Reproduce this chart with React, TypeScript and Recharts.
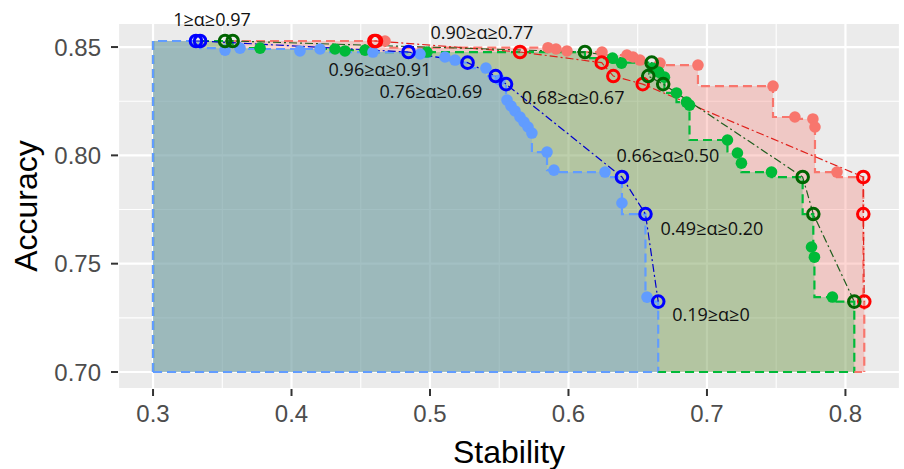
import {
  CartesianGrid,
  ComposedChart,
  Area,
  Line,
  ReferenceDot,
  Scatter,
  XAxis,
  YAxis,
} from "recharts";

const PANEL = "#EBEBEB";
const TICK_TEXT = "#4D4D4D";
const TICK_LINE = "#333333";
const SANS = "'Liberation Sans', Arial, sans-serif";
const NOTE_FONT = "'Open Sans', 'Noto Sans', sans-serif";

const X_TICKS = [0.3, 0.4, 0.5, 0.6, 0.7, 0.8];
const X_MINOR = [0.35, 0.45, 0.55, 0.65, 0.75];
const Y_TICKS = [0.7, 0.75, 0.8, 0.85];
const Y_MINOR = [0.725, 0.775, 0.825];
const X_DOMAIN = [0.2747, 0.8394];
const Y_DOMAIN = [0.69215, 0.8611];
const BASE_X = 0.3;
const BASE_Y = 0.7;

// [stability, accuracy]
const bluePoints = [
  [0.352, 0.8486], [0.3628, 0.8495], [0.4061, 0.8482], [0.4206, 0.8491],
  [0.4588, 0.8477], [0.4928, 0.8468], [0.5108, 0.8454], [0.5181, 0.844],
  [0.5404, 0.8403], [0.5505, 0.8348], [0.5556, 0.8255], [0.5585, 0.8228],
  [0.5614, 0.8205], [0.565, 0.8177], [0.5679, 0.8154], [0.5708, 0.8131],
  [0.5736, 0.8103], [0.5845, 0.8015], [0.5895, 0.7932], [0.6264, 0.7923],
  [0.6386, 0.778], [0.6567, 0.7346],
];
const blueCircles = [
  [0.331, 0.8528], [0.334, 0.8528], [0.4845, 0.8477], [0.5271, 0.8428],
  [0.5474, 0.8366], [0.5549, 0.8329], [0.6386, 0.79], [0.6556, 0.7729],
  [0.6648, 0.7325],
];

const greenPoints = [
  [0.3773, 0.8495], [0.4314, 0.8491], [0.4386, 0.8482], [0.4531, 0.8486],
  [0.4978, 0.8477], [0.6318, 0.8449], [0.6383, 0.8426], [0.6606, 0.8403],
  [0.665, 0.8385], [0.6693, 0.8361], [0.678, 0.8288], [0.6852, 0.8246],
  [0.6874, 0.8232], [0.7148, 0.8071], [0.722, 0.8011], [0.7249, 0.7964],
  [0.7466, 0.7923], [0.7755, 0.7577], [0.7776, 0.753], [0.7906, 0.7346],
];
const greenCircles = [
  [0.352, 0.8528], [0.3575, 0.8528], [0.6119, 0.8477], [0.6601, 0.8428],
  [0.6576, 0.8366], [0.6684, 0.8329], [0.7691, 0.79], [0.7768, 0.7729],
  [0.8064, 0.7325],
];

const redPoints = [
  [0.4675, 0.8528], [0.5852, 0.8497], [0.591, 0.8491], [0.5989, 0.8482],
  [0.6242, 0.8477], [0.6422, 0.8463], [0.6466, 0.8454], [0.6516, 0.844],
  [0.6661, 0.8426], [0.6935, 0.8417], [0.7477, 0.832], [0.7635, 0.8177],
  [0.7765, 0.8168], [0.778, 0.8131], [0.7939, 0.7923],
];
const redCircles = [
  [0.4598, 0.8528], [0.461, 0.8528], [0.565, 0.8477], [0.624, 0.8428],
  [0.6324, 0.8366], [0.6536, 0.8329], [0.8129, 0.79], [0.8129, 0.7729],
  [0.8136, 0.7325],
];

const alphaLabels = [
  "1≥α≥0.97", "0.90≥α≥0.77", "0.96≥α≥0.91", "0.76≥α≥0.69",
  "0.68≥α≥0.67", "0.66≥α≥0.50", "0.49≥α≥0.20", "0.19≥α≥0",
];
const labelSpots = [
  [0.3426, 0.8625], [0.5375, 0.8565], [0.4639, 0.8394], [0.5007, 0.8292],
  [0.6033, 0.8265], [0.6718, 0.8001], [0.7036, 0.7664], [0.7029, 0.7263],
];

type Pt = { x: number; y: number };

const toPts = (rows: number[][]): Pt[] => rows.map(([x, y]) => ({ x, y }));

// pareto front (higher stability and accuracy dominate), sorted by stability
function front(rows: number[][]): Pt[] {
  const sorted = toPts(rows).sort((a, b) => b.x - a.x || b.y - a.y);
  const out: Pt[] = [];
  let best = -Infinity;
  for (const p of sorted) {
    if (p.y > best) {
      out.push(p);
      best = p.y;
    }
  }
  return out.reverse();
}

const groups = [
  { key: "red", points: redPoints, circles: redCircles, light: "#F8766D", dark: "#FF0000", path: "#E0201B", alpha: 0.3 },
  { key: "green", points: greenPoints, circles: greenCircles, light: "#00BA38", dark: "#006400", path: "#1E5E1E", alpha: 0.25 },
  { key: "blue", points: bluePoints, circles: blueCircles, light: "#619CFF", dark: "#0000FF", path: "#0000CD", alpha: 0.28 },
].map((g) => {
  const f = front([...g.points, ...g.circles]);
  const last = f[f.length - 1];
  return {
    ...g,
    region: [{ x: BASE_X, y: BASE_Y }, ...f, { x: last.x, y: BASE_Y }],
    bottom: [{ x: BASE_X, y: BASE_Y }, { x: last.x, y: BASE_Y }],
  };
});

export default function App() {
  return (
    <div style={{ position: "absolute", left: 0, top: 0, background: "#fff" }}>
      <ComposedChart width={904} height={469} margin={{ top: 23, right: 4, bottom: 0, left: 0 }}>
        <CartesianGrid fill={PANEL} stroke="#FFFFFF" strokeWidth={2.2} />
        <CartesianGrid xAxisId="minor" yAxisId="minor" stroke="#FFFFFF" strokeWidth={1.1} />
        <XAxis
          type="number"
          dataKey="x"
          domain={X_DOMAIN}
          allowDataOverflow
          ticks={X_TICKS}
          tickFormatter={(v: number) => v.toFixed(1)}
          tick={{ fontSize: 24, fill: TICK_TEXT, fontFamily: SANS }}
          tickLine={{ stroke: TICK_LINE, strokeWidth: 2 }}
          tickSize={7}
          tickMargin={9}
          axisLine={false}
          height={80}
          label={{ value: "Stability", position: "center", dy: 23, fontSize: 32, fill: "#000", fontFamily: SANS }}
        />
        <YAxis
          type="number"
          dataKey="y"
          domain={Y_DOMAIN}
          allowDataOverflow
          ticks={Y_TICKS}
          tickFormatter={(v: number) => v.toFixed(2)}
          tick={{ fontSize: 24, fill: TICK_TEXT, fontFamily: SANS }}
          tickLine={{ stroke: TICK_LINE, strokeWidth: 2 }}
          tickSize={7}
          tickMargin={10}
          axisLine={false}
          width={118}
          label={{ value: "Accuracy", angle: -90, position: "center", dx: -33, fontSize: 32, fill: "#000", fontFamily: SANS }}
        />
        <XAxis xAxisId="minor" type="number" dataKey="x" domain={X_DOMAIN} allowDataOverflow ticks={X_MINOR} hide />
        <YAxis yAxisId="minor" type="number" dataKey="y" domain={Y_DOMAIN} allowDataOverflow ticks={Y_MINOR} hide />

        {groups.map((g) => (
          <Area
            key={`area-${g.key}`}
            data={g.region}
            dataKey="y"
            type="stepBefore"
            baseValue={BASE_Y}
            stroke={g.light}
            strokeWidth={2.2}
            strokeDasharray="9 5"
            fill={g.light}
            fillOpacity={g.alpha}
            dot={false}
            activeDot={false}
            isAnimationActive={false}
          />
        ))}
        {groups.map((g) => (
          <Line
            key={`bottom-${g.key}`}
            data={g.bottom}
            dataKey="y"
            stroke={g.light}
            strokeWidth={2.2}
            strokeDasharray="9 5"
            dot={false}
            activeDot={false}
            isAnimationActive={false}
          />
        ))}
        {groups.map((g) => (
          <Scatter
            key={`pts-${g.key}`}
            data={toPts(g.points)}
            dataKey="y"
            isAnimationActive={false}
            shape={(p: any) => <circle cx={p.cx} cy={p.cy} r={5.8} fill={g.light} />}
          />
        ))}
        {groups.map((g) => (
          <Line
            key={`path-${g.key}`}
            data={toPts(g.circles)}
            dataKey="y"
            stroke={g.path}
            strokeWidth={1.2}
            strokeDasharray="8 3 2 3"
            dot={false}
            activeDot={false}
            isAnimationActive={false}
          />
        ))}
        {groups.map((g) => (
          <Scatter
            key={`circ-${g.key}`}
            data={toPts(g.circles)}
            dataKey="y"
            isAnimationActive={false}
            shape={(p: any) => (
              <circle cx={p.cx} cy={p.cy} r={5.8} fill="none" stroke={g.dark} strokeWidth={3} />
            )}
          />
        ))}
        {alphaLabels.map((text, i) => (
          <ReferenceDot
            key={text}
            x={labelSpots[i][0]}
            y={labelSpots[i][1]}
            r={0}
            fill="none"
            stroke="none"
            ifOverflow="visible"
            label={{ value: text, position: "center", fontSize: 18, fill: "#111", fontFamily: NOTE_FONT }}
          />
        ))}
      </ComposedChart>
    </div>
  );
}
